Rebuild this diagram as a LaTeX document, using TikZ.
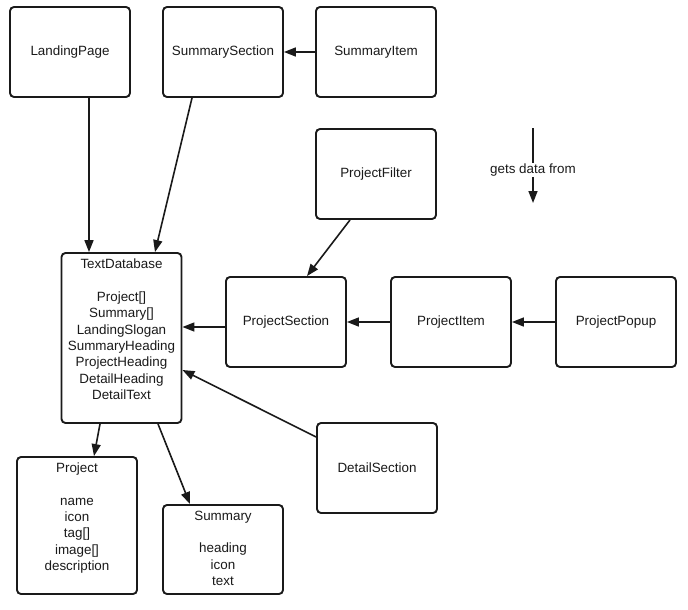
\documentclass[tikz,border=0pt]{standalone}
\usepackage{fontspec}
\setmainfont{Liberation Sans}
\usetikzlibrary{arrows.meta}
\definecolor{ink}{HTML}{1A1A1A}
\tikzset{
  box/.style={draw=ink, line width=1.9pt, rounded corners=4pt, fill=white,
    minimum width=120pt, minimum height=90pt, inner sep=0pt,
    align=center, text=ink, font=\fontsize{13.4}{16.3}\selectfont},
  listtext/.style={anchor=north, inner sep=0pt, align=center, text=ink,
    font=\fontsize{13.4}{16.3}\selectfont},
  arr/.style={draw=ink, line width=1.6pt, -{Triangle[length=12pt,width=9pt]}},
  plain/.style={draw=ink, line width=1.6pt}
}
\begin{document}
\begin{tikzpicture}[x=1pt, y=-1pt]
\useasboundingbox (0,0) rectangle (688,610);

% components
\node[box] (lp) at (70,52) {LandingPage};
\node[box] (ss) at (223,52) {SummarySection};
\node[box] (si) at (376,52) {SummaryItem};
\node[box] (pf) at (376,174) {ProjectFilter};
\node[box] (ps) at (286,322) {ProjectSection};
\node[box] (pi) at (451,322) {ProjectItem};
\node[box] (pp) at (616,322) {ProjectPopup};
\node[box] (ds) at (377,468) {DetailSection};

% data holders, text hung from the top edge
\node[box, minimum height=170pt,
  label={[listtext, yshift=-7pt]north:{TextDatabase\\[16.3pt]Project[]\\Summary[]\\LandingSlogan\\SummaryHeading\\ProjectHeading\\DetailHeading\\DetailText}}]
  (td) at (121.5,338) {};
\node[box, minimum height=137pt,
  label={[listtext, yshift=-7pt]north:{Project\\[16pt]name\\icon\\tag[]\\image[]\\description}}]
  (pj) at (77,525.5) {};
\node[box, minimum height=89pt,
  label={[listtext, yshift=-7pt]north:{Summary\\[16pt]heading\\icon\\text}}]
  (sm) at (223,549.5) {};

% data flow
\draw[arr] ([xshift=19pt]lp.south) -- ([xshift=-32.5pt]td.north);
\draw[arr] ([xshift=-31pt]ss.south) -- ([xshift=33.5pt]td.north);
\draw[arr] (si.west) -- (ss.east);
\draw[arr] ([xshift=-26pt]pf.south) -- ([xshift=21pt]ps.north);
\draw[arr] ([yshift=-5pt]ps.west) -- ([yshift=11pt]td.east);
\draw[arr] (pi.west) -- (ps.east);
\draw[arr] (pp.west) -- (pi.east);
\draw[arr] ([yshift=31pt]ds.west) -- ([yshift=-32pt]td.east);
\draw[arr] ([xshift=-21.5pt]td.south) -- ([xshift=17pt]pj.north);
\draw[arr] ([xshift=36.5pt]td.south) -- ([xshift=-33pt]sm.north);

% legend
\coordinate (legtop) at (533,128);
\coordinate (legtip) at (533,203);
\node[inner sep=1pt, text=ink, font=\fontsize{13.4}{16.3}\selectfont] (gd) at (533,170) {gets data from};
\draw[plain] (legtop) -- (gd);
\draw[arr] (gd) -- (legtip);
\end{tikzpicture}
\end{document}
